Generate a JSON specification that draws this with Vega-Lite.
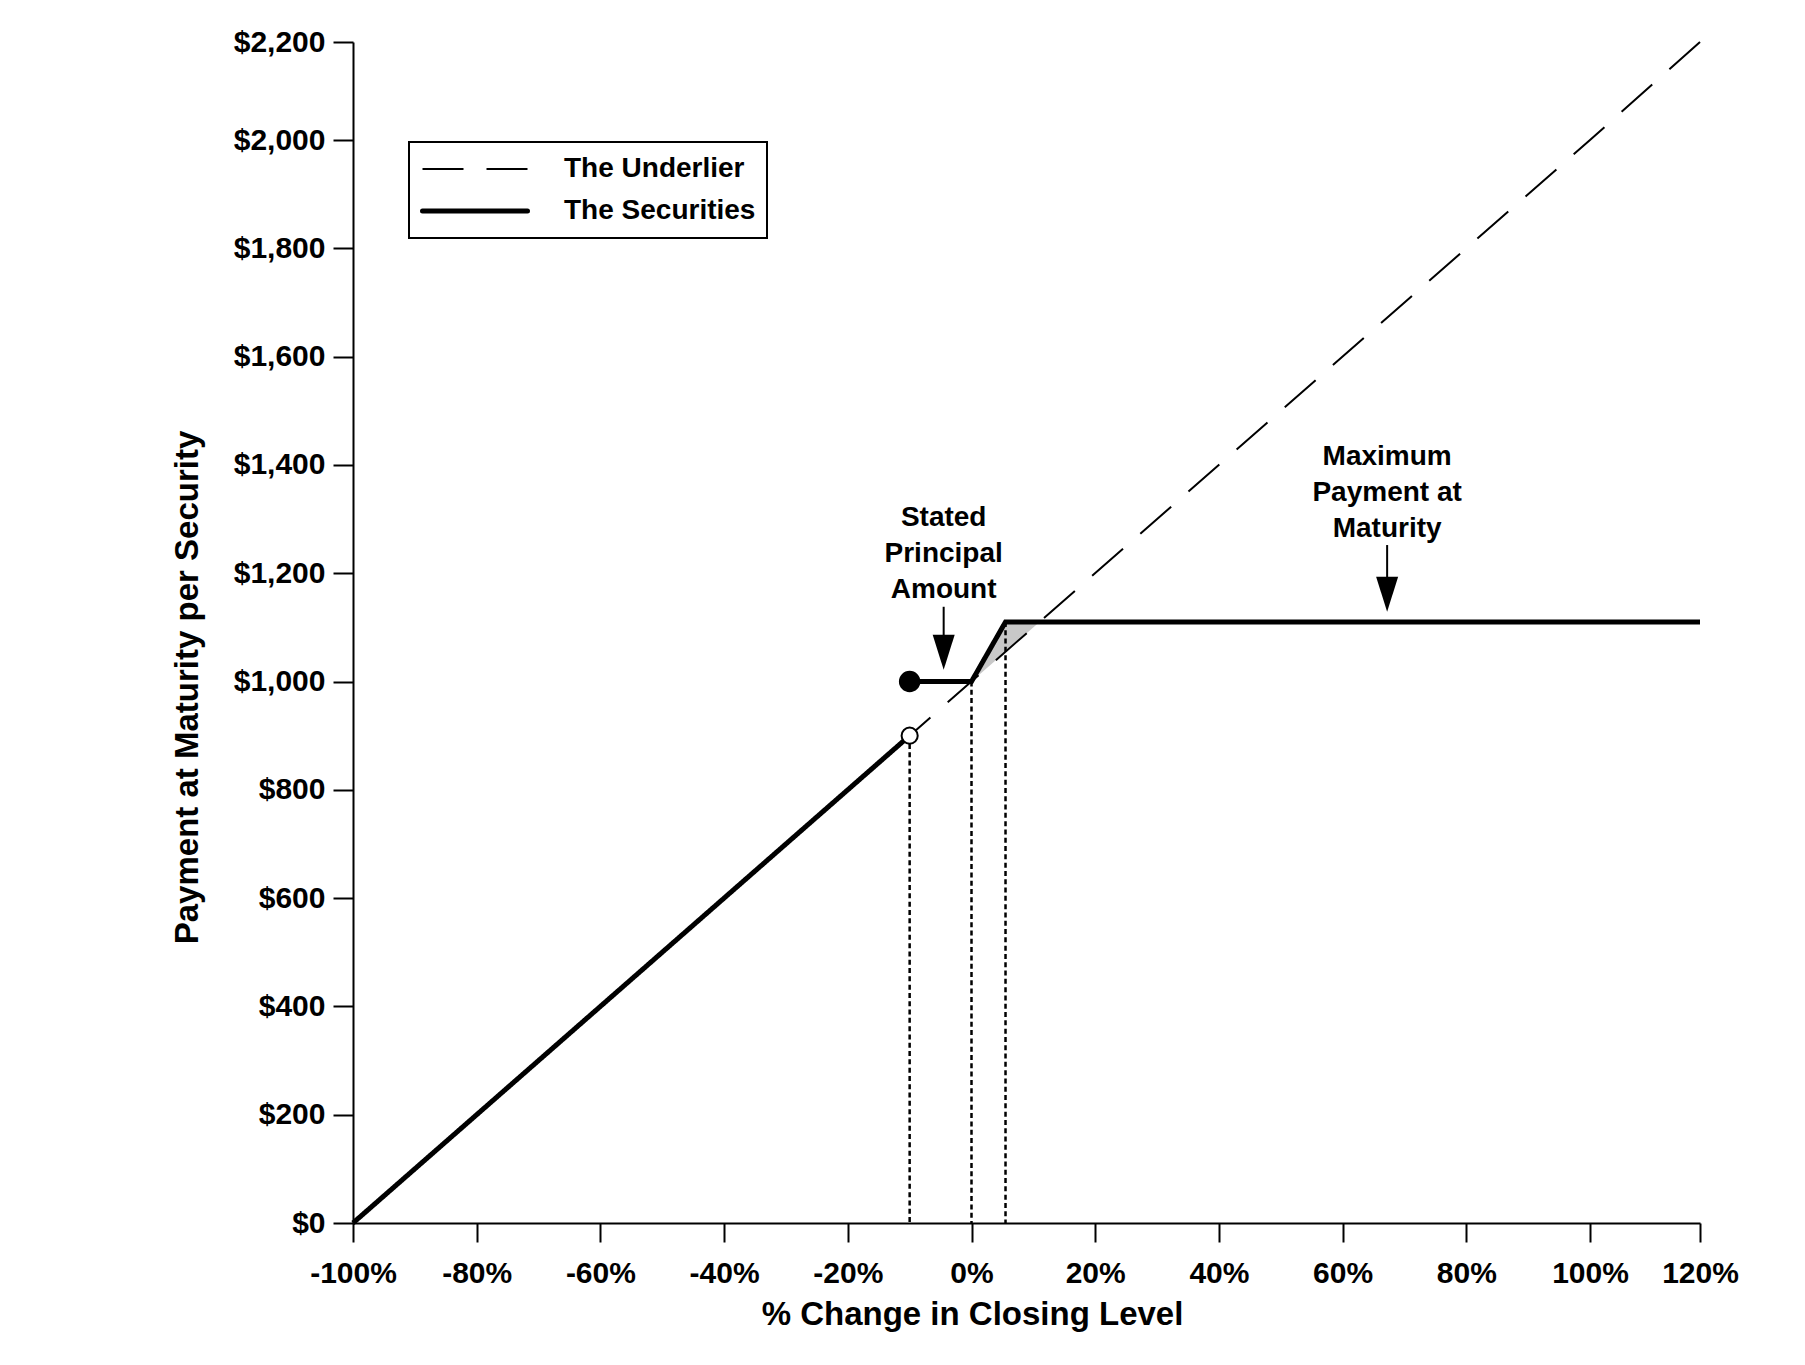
{
  "$schema": "https://vega.github.io/schema/vega-lite/v6.json",
  "width": 1347,
  "height": 1181,
  "autosize": {"type": "none"},
  "padding": {"left": 353, "top": 42, "right": 105, "bottom": 142},
  "background": "white",
  "config": {
    "font": "Liberation Sans",
    "view": {"stroke": null},
    "axis": {
      "grid": false,
      "domainColor": "black",
      "domainWidth": 2,
      "tickColor": "black",
      "tickWidth": 2,
      "labelColor": "black",
      "labelFont": "Liberation Sans",
      "labelFontSize": 30,
      "labelFontWeight": "bold",
      "titleColor": "black",
      "titleFont": "Liberation Sans",
      "titleFontSize": 33,
      "titleFontWeight": "bold"
    },
    "legend": {
      "orient": "none",
      "legendX": 56,
      "legendY": 100,
      "padding": 11,
      "rowPadding": 10,
      "clipHeight": 32,
      "strokeColor": "black",
      "fillColor": "white",
      "symbolType": "stroke",
      "symbolSize": 11025,
      "symbolStrokeColor": "black",
      "labelFont": "Liberation Sans",
      "labelFontSize": 28,
      "labelFontWeight": "bold",
      "labelColor": "black",
      "labelOffset": 34,
      "labelLimit": 400
    }
  },
  "datasets": {
    "lines": [
      {"series": "The Underlier", "seg": "u", "x": -10, "y": 900},
      {"series": "The Underlier", "seg": "u", "x": 100, "y": 2000},
      {"series": "The Underlier", "seg": "u", "x": 120, "y": 2200},
      {"series": "The Securities", "seg": "s1", "x": -100, "y": 0},
      {"series": "The Securities", "seg": "s1", "x": -10, "y": 900},
      {"series": "The Securities", "seg": "s2", "x": -10, "y": 1000},
      {"series": "The Securities", "seg": "s2", "x": 0, "y": 1000},
      {"series": "The Securities", "seg": "s2", "x": 5.5, "y": 1110},
      {"series": "The Securities", "seg": "s2", "x": 120, "y": 1110}
    ],
    "shade": [
      {"x": 0, "y": 1000, "y2": 1000},
      {"x": 5.5, "y": 1110, "y2": 1055},
      {"x": 11, "y": 1110, "y2": 1110}
    ],
    "guides": [
      {"x": -10, "y": 900, "y2": 0},
      {"x": 0, "y": 1000, "y2": 0},
      {"x": 5.5, "y": 1110, "y2": 0}
    ],
    "dots": [
      {"x": -10, "y": 1000, "kind": "filled"},
      {"x": -10, "y": 900, "kind": "open"}
    ],
    "notes": [
      {"x": -4.5, "y": 1302, "text": "Stated"},
      {"x": -4.5, "y": 1235, "text": "Principal"},
      {"x": -4.5, "y": 1169, "text": "Amount"},
      {"x": 67.2, "y": 1415, "text": "Maximum"},
      {"x": 67.2, "y": 1348, "text": "Payment at"},
      {"x": 67.2, "y": 1282, "text": "Maturity"}
    ],
    "shafts": [
      {"x": -4.5, "y": 1138, "y2": 1080},
      {"x": 67.2, "y": 1252, "y2": 1185}
    ],
    "heads": [
      {"x": -4.5, "y": 1054},
      {"x": 67.2, "y": 1161}
    ]
  },
  "encoding": {
    "x": {
      "field": "x",
      "type": "quantitative",
      "scale": {"domain": [-100, 100, 120], "range": [0, 1237, 1347], "nice": false, "zero": false},
      "axis": {
        "values": [-100, -80, -60, -40, -20, 0, 20, 40, 60, 80, 100, 120],
        "labelExpr": "datum.value + '%'",
        "labelOverlap": false,
        "labelFlush": false,
        "tickSize": 19,
        "labelPadding": 16,
        "title": "% Change in Closing Level",
        "titleX": 619,
        "titleY": 91,
        "titleAlign": "center",
        "titleBaseline": "middle"
      }
    },
    "y": {
      "field": "y",
      "type": "quantitative",
      "scale": {"domain": [0, 2000, 2200], "range": [1181, 98, 0], "nice": false, "zero": false},
      "axis": {
        "values": [0, 200, 400, 600, 800, 1000, 1200, 1400, 1600, 1800, 2000, 2200],
        "format": "$,.0f",
        "labelOverlap": false,
        "tickSize": 20,
        "labelPadding": 8,
        "title": "Payment at Maturity per Security",
        "titleX": -166,
        "titleY": 645,
        "titleAngle": -90,
        "titleAlign": "center",
        "titleBaseline": "middle"
      }
    }
  },
  "layer": [
    {
      "data": {"name": "shade"},
      "mark": {"type": "area", "color": "#c8c8c8", "opacity": 1},
      "encoding": {"y2": {"field": "y2"}}
    },
    {
      "data": {"name": "guides"},
      "mark": {"type": "rule", "color": "black", "strokeWidth": 2.5, "strokeDash": [5, 3.3]},
      "encoding": {"y2": {"field": "y2"}}
    },
    {
      "data": {"name": "lines"},
      "mark": {"type": "line", "color": "black"},
      "encoding": {
        "detail": {"field": "seg"},
        "order": {"field": "x", "sort": "descending"},
        "strokeDash": {
          "field": "series",
          "type": "nominal",
          "scale": {"domain": ["The Underlier", "The Securities"], "range": [[41, 23], [1, 0]]},
          "legend": {
            "title": null,
            "encode": {
              "legend": {"update": {"strokeWidth": {"value": 2}}},
              "labels": {
                "update": {
                  "text": {"signal": "datum.label + '\u2003\u2003\u2003'"}
                }
              },
              "symbols": {
                "update": {
                  "strokeWidth": {"signal": "datum.value === 'The Securities' ? 7 : 2.5"},
                  "strokeCap": {"signal": "datum.value === 'The Securities' ? 'round' : 'butt'"}
                }
              }
            }
          }
        },
        "strokeWidth": {
          "field": "series",
          "type": "ordinal",
          "scale": {"domain": ["The Underlier", "The Securities"], "range": [2, 5]},
          "legend": null
        }
      }
    },
    {
      "data": {"name": "dots"},
      "mark": {"type": "point", "filled": true, "opacity": 1, "strokeWidth": 2, "stroke": "black"},
      "encoding": {
        "fill": {
          "field": "kind",
          "type": "nominal",
          "scale": {"domain": ["filled", "open"], "range": ["black", "white"]},
          "legend": null
        },
        "size": {
          "field": "kind",
          "type": "nominal",
          "scale": {"domain": ["filled", "open"], "range": [380, 260]},
          "legend": null
        }
      }
    },
    {
      "data": {"name": "shafts"},
      "mark": {"type": "rule", "color": "black", "strokeWidth": 2},
      "encoding": {"y2": {"field": "y2"}}
    },
    {
      "data": {"name": "heads"},
      "mark": {"type": "point", "shape": "M-0.63,-1L0.63,-1L0,1Z", "size": 1225, "filled": true, "color": "black", "opacity": 1},
      "encoding": {}
    },
    {
      "data": {"name": "notes"},
      "mark": {"type": "text", "font": "Liberation Sans", "fontSize": 28, "fontWeight": "bold", "color": "black", "align": "center", "baseline": "middle"},
      "encoding": {"text": {"field": "text"}}
    }
  ]
}
